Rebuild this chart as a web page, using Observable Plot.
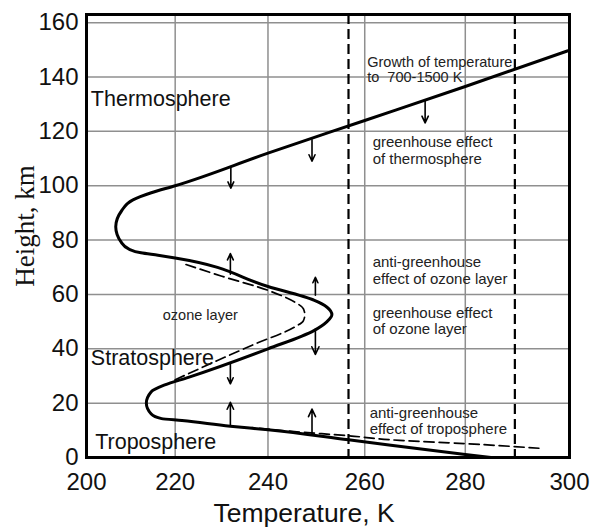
<!DOCTYPE html>
<html>
<head>
<meta charset="utf-8">
<script src="https://cdn.jsdelivr.net/npm/d3@7"></script>
<script src="https://cdn.jsdelivr.net/npm/@observablehq/plot@0.6"></script>
<style>
  html, body { margin: 0; padding: 0; background: #fff; }
  #chart svg { display: block; }
</style>
</head>
<body>
<div id="chart"></div>
<script>
// ---- axis ticks ----
const xTicks = [200, 220, 240, 260, 280, 300];
const yTicks = [0, 20, 40, 60, 80, 100, 120, 140, 160];

// ---- observed temperature profile (solid), ordered by height ----
const profileT = [285, 280, 256.7, 240, 232, 221.5, 217, 214.7, 213.6, 214.7, 217.7, 222.9, 240, 249.6, 252.3, 253.3, 252.3, 249.7, 240, 220, 216.2, 212.4, 209.8, 207.9, 206.7, 208, 210.6, 214.7, 220, 240, 260, 280, 299.6];
const profileH = [0, 1.1, 6.5, 10.2, 11.5, 13.6, 14.3, 16, 20, 24.2, 26.7, 29.5, 40, 46.7, 50, 52.5, 55.3, 57.8, 62.9, 73.4, 74.4, 75.3, 76.6, 79.3, 84.9, 90.7, 94.8, 97.4, 100, 112, 124, 136.5, 149.6];

// ---- profile without greenhouse effects (dashed), ordered by height ----
const noTropoT = [294.2, 280, 267, 256.7, 245, 236.6];
const noTropoH = [3.4, 5.1, 6.3, 8.0, 9.6, 11.0];
const noOzoneT = [220, 229.1, 237.3, 245.6, 247.4, 247.7, 247.4, 245.6, 240, 230, 221.5];
const noOzoneH = [28.6, 35.6, 41.8, 48, 50.3, 52.5, 54.8, 57.2, 61.5, 66.8, 71.5];

// ---- effective temperatures (dashed verticals) ----
const effectiveT = [256.7, 289.6];

// ---- arrows ----
const arrowT    = [232.1, 249.2, 272.1, 249.9, 232, 232, 249.9, 232, 249.2];
const arrowFrom = [106.7, 116.9, 131.4, 47.3, 34.5, 67.4, 59.7, 11.9, 8.6];
const arrowTo   = [99.1, 109, 123.1, 37.9, 27.1, 75, 66.3, 20.3, 17.8];

// ---- layer names ----
const layerNames = ["Thermosphere", "Stratosphere", "Troposphere"];
const layerT = [201, 201, 202];
const layerH = [131.7, 36.4, 5.6];

// ---- annotations ----
const noteTexts = [
  "Growth of temperature\nto\u00a0 700-1500 K",
  "greenhouse effect\nof thermosphere",
  "anti-greenhouse\neffect of ozone layer",
  "greenhouse effect\nof ozone layer",
  "anti-greenhouse\neffect of troposphere"
];
const noteT = [260.5, 261.6, 261.6, 261.6, 261.0];
const noteH = [142.8, 113.1, 69.0, 50.4, 13.6];
const noteSize = [14.5, 15, 15, 15, 15];

const ozoneLabel = ["ozone layer"];
const ozoneLabelT = [225.5];
const ozoneLabelH = [52.2];

// ---- build tables ----
const profile = profileT.map((t, i) => ({T: t, H: profileH[i]}));
const dashed = [
  ...noTropoT.map((t, i) => ({T: t, H: noTropoH[i], s: "tropo"})),
  ...noOzoneT.map((t, i) => ({T: t, H: noOzoneH[i], s: "ozone"}))
];
const arrows = arrowT.map((t, i) => ({T: t, h1: arrowFrom[i], h2: arrowTo[i]}));
const layers = layerNames.map((n, i) => ({n, T: layerT[i], H: layerH[i]}));
const notes = noteTexts.map((n, i) => ({n, T: noteT[i], H: noteH[i], fs: noteSize[i]}));
const ozone = ozoneLabel.map((n, i) => ({n, T: ozoneLabelT[i], H: ozoneLabelH[i]}));

const sans = "Liberation Sans, Arial, Helvetica, sans-serif";

const chart = Plot.plot({
  width: 592,
  height: 527,
  marginLeft: 86,
  marginRight: 23,
  marginTop: 14,
  marginBottom: 70,
  style: {fontFamily: sans, background: "#fff", overflow: "visible"},
  x: {type: "pow", exponent: 1.5, domain: [200, 300]},
  y: {domain: [0, 163]},
  marks: [
    Plot.gridX({ticks: xTicks, stroke: "#8f8f8f", strokeOpacity: 1, strokeWidth: 1.5}),
    Plot.gridY({ticks: yTicks, stroke: "#8f8f8f", strokeOpacity: 1, strokeWidth: 1.5}),
    Plot.ruleX(effectiveT, {stroke: "#000", strokeWidth: 2.2, strokeDasharray: "10,5"}),
    Plot.line(dashed, {x: "T", y: "H", z: "s", curve: "monotone-y", stroke: "#000", strokeWidth: 1.7, strokeDasharray: "10,5"}),
    Plot.line(profile, {x: "T", y: "H", curve: "monotone-y", stroke: "#000", strokeWidth: 3}),
    Plot.arrow(arrows, {x1: "T", x2: "T", y1: "h1", y2: "h2", stroke: "#000", strokeWidth: 1.6, headLength: 9, headAngle: 50}),
    Plot.text(layers, {x: "T", y: "H", text: "n", textAnchor: "start", lineAnchor: "middle", fontSize: 21.5, fill: "#111"}),
    Plot.text(notes, {x: "T", y: "H", text: "n", textAnchor: "start", lineAnchor: "middle", lineHeight: 1.1, fontSize: (d) => d.fs, fill: "#222"}),
    Plot.text(ozone, {x: "T", y: "H", text: "n", textAnchor: "middle", lineAnchor: "middle", fontSize: 14.5, fill: "#222"}),
    Plot.frame({stroke: "#000", strokeWidth: 3}),
    Plot.axisX({ticks: xTicks, tickSize: 0, tickPadding: 15, fontSize: 24, label: null, tickFormat: (d) => String(d), fill: "#111"}),
    Plot.axisY({ticks: yTicks, tickSize: 0, tickPadding: 8, fontSize: 24, label: null, tickFormat: (d) => String(d), fill: "#111"}),
    Plot.text(["Temperature, K"], {frameAnchor: "bottom", text: (d) => d, textAnchor: "middle", dx: -24, dy: 56, lineAnchor: "middle", fontSize: 26.5, fill: "#111"}),
    Plot.text(["Height, km"], {frameAnchor: "left", text: (d) => d, textAnchor: "middle", dx: -61, dy: -10, rotate: -90, lineAnchor: "middle", fontSize: 27, fontFamily: "Liberation Serif, Times New Roman, serif", fill: "#111"})
  ]
});

document.getElementById("chart").appendChild(chart);
</script>
</body>
</html>
